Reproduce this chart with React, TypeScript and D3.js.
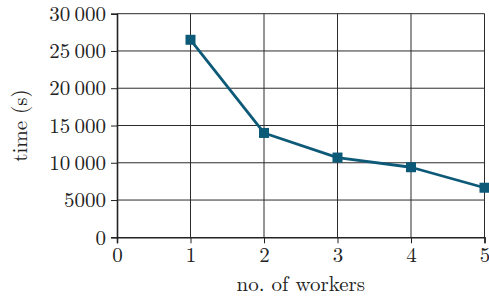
import * as d3 from "d3";
import React, { useRef, useEffect } from "react";

const workers = [1, 2, 3, 4, 5];
const times = [26500, 14000, 10700, 9400, 6650];
const xTicks = [0, 1, 2, 3, 4, 5];
const yTicks = [0, 5000, 10000, 15000, 20000, 25000, 30000];

const App = () => {
    const svgRef = useRef<SVGSVGElement | null>(null);

    useEffect(() => {
        const width = 489;
        const height = 298;
        const marginLeft = 117;
        const marginRight = 4.5;
        const marginTop = 13.7;
        const marginBottom = 60.7;
        const font = "'Latin Modern Roman', 'CMU Serif', 'DejaVu Serif', serif";
        const fontSize = "21px";
        const color = "#0d5a78";

        const svg = d3.select(svgRef.current);
        svg.selectAll("*").remove();

        const x = d3.scaleLinear().domain([0, 5]).range([marginLeft, width - marginRight]);
        const y = d3.scaleLinear().domain([0, 30000]).range([height - marginBottom, marginTop]);

        // grid
        const grid = svg.append("g").attr("stroke", "#2b2b2b").attr("stroke-width", 1);
        grid.selectAll("line.v").data(xTicks.slice(1)).join("line")
            .attr("x1", d => x(d)).attr("x2", d => x(d))
            .attr("y1", y(0)).attr("y2", y(30000));
        grid.selectAll("line.h").data(yTicks.slice(1)).join("line")
            .attr("x1", x(0)).attr("x2", x(5))
            .attr("y1", d => y(d)).attr("y2", d => y(d));

        // thousands with a thin space
        const fmt = (d: number) => d >= 10000 ? d3.format(",")(d).replace(",", "\u2009") : String(d);

        const yAxis = svg.append("g")
            .attr("transform", `translate(${marginLeft},0)`)
            .call(d3.axisLeft(y).tickValues(yTicks).tickSize(6).tickPadding(5).tickFormat(d => fmt(+d)));
        const xAxis = svg.append("g")
            .attr("transform", `translate(0,${height - marginBottom})`)
            .call(d3.axisBottom(x).tickValues(xTicks).tickSize(6).tickPadding(4).tickFormat(d3.format("d")));

        [yAxis, xAxis].forEach(g => {
            g.select(".domain").attr("stroke", "#222").attr("stroke-width", 1.6);
            g.selectAll(".tick line").attr("stroke", "#222").attr("stroke-width", 1);
            g.selectAll(".tick text")
                .attr("font-family", font)
                .style("font-size", fontSize)
                .attr("fill", "#222");
        });

        // series
        const line = d3.line<number>()
            .x((d, i) => x(workers[i]))
            .y(d => y(d));

        svg.append("path")
            .datum(times)
            .attr("fill", "none")
            .attr("stroke", color)
            .attr("stroke-width", 2.8)
            .attr("stroke-linejoin", "round")
            .attr("d", line);

        const s = 10;
        svg.append("g")
            .selectAll("rect")
            .data(times)
            .join("rect")
            .attr("x", (d, i) => x(workers[i]) - s / 2)
            .attr("y", d => y(d) - s / 2)
            .attr("width", s)
            .attr("height", s)
            .attr("fill", color);

        // labels
        svg.append("text")
            .attr("x", (x(0) + x(5)) / 2)
            .attr("y", 291)
            .attr("text-anchor", "middle")
            .attr("font-family", font)
            .style("font-size", fontSize)
            .attr("fill", "#222")
            .text("no. of workers");

        svg.append("text")
            .attr("transform", `translate(27,${(y(0) + y(30000)) / 2}) rotate(-90)`)
            .attr("text-anchor", "middle")
            .attr("font-family", font)
            .style("font-size", fontSize)
            .attr("fill", "#222")
            .text("time (s)");
    }, []);

    return (
        <svg ref={svgRef} width={489} height={298}
            style={{ position: "absolute", left: 0, top: 0, background: "#fff" }} />
    );
};

export default App;
